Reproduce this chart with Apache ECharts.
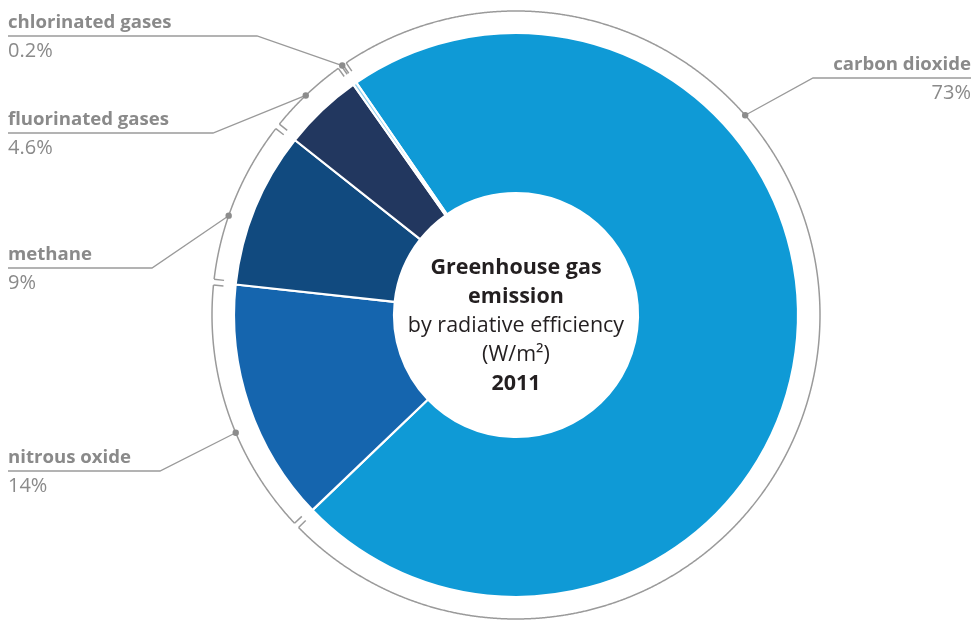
<!DOCTYPE html>
<html>
<head>
<meta charset="utf-8">
<script src="https://cdn.jsdelivr.net/npm/echarts@6/dist/echarts.min.js"></script>
<style>
  html, body { margin: 0; padding: 0; background: #ffffff; }
  #chart { width: 977px; height: 620px; }
</style>
</head>
<body>
<div id="chart"></div>
<script>
// Greenhouse gas emission by radiative efficiency, 2011 (share of total, %)
const gases = ['carbon dioxide', 'nitrous oxide', 'methane', 'fluorinated gases', 'chlorinated gases'];
const shares = [73, 14, 9, 4.6, 0.2];
const shareLabels = ['73%', '14%', '9%', '4.6%', '0.2%'];
const centerLines = ['Greenhouse gas', 'emission', 'by radiative efficiency', '(W/m²)', '2011'];

// styling
const sliceColors = ['#0f9ad6', '#1565ae', '#114a7f', '#22375f', '#8ccfee'];
const GREY_LINE = '#9a9a9a';
const GREY_TEXT = '#8a8a8a';
const FONT = '"Open Sans", "Noto Sans", sans-serif';

// layout
const CX = 516, CY = 315;
const DONUT_R0 = 122, DONUT_R = 282;
const RING_R = 304;          // thin bracket ring around the donut
const TICK = 10;             // length of the inward bracket ticks, px
const GAP_DEG = 0.55;        // half the gap between neighbouring brackets
const START_ANGLE = 124.5;   // first slice starts up-left of 12 o'clock

// leader placement for each label: point on the ring (fraction along its slice),
// underline height, elbow x and the x where the underline ends
const leaders = [
  { along: 0.32, lineY: 78,  kinkX: 813, endX: 971, side: 'right' },
  { along: 0.42, lineY: 471, kinkX: 160, endX: 8,   side: 'left' },
  { along: 0.40, lineY: 268, kinkX: 152, endX: 8,   side: 'left' },
  { along: 0.48, lineY: 133, kinkX: 213, endX: 8,   side: 'left' },
  { along: 0.50, lineY: 36,  kinkX: 257, endX: 8,   side: 'left' }
];

const total = shares.reduce((a, b) => a + b, 0);
const spans = [];
let acc = 0;
shares.forEach(v => { spans.push([acc, acc + v]); acc += v; });

const gapVal = total / 360 * GAP_DEG;

function renderBracket(params, api) {
  const i = params.dataIndex;
  const a0 = api.value(0), a1 = api.value(1);
  const span = a1 - a0;
  const gap = Math.min(gapVal, span * 0.25);
  const s = a0 + gap, e = a1 - gap;
  const inner = 1 - TICK / RING_R;

  const arc = [];
  const n = Math.max(2, Math.ceil((e - s) / 0.05));
  for (let k = 0; k <= n; k++) arc.push(api.coord([1, s + (e - s) * k / n]));

  const lineStyle = { stroke: GREY_LINE, lineWidth: 1.5, fill: null };
  const L = leaders[i];
  const dot = api.coord([1, a0 + span * L.along]);
  const align = L.side === 'right' ? 'right' : 'left';
  const ps = api.coord([1, s]), pis = api.coord([inner, s]);
  const pe = api.coord([1, e]), pie = api.coord([inner, e]);

  return {
    type: 'group',
    children: [
      { type: 'polyline', shape: { points: arc }, style: lineStyle },
      { type: 'line', shape: { x1: ps[0], y1: ps[1], x2: pis[0], y2: pis[1] }, style: lineStyle },
      { type: 'line', shape: { x1: pe[0], y1: pe[1], x2: pie[0], y2: pie[1] }, style: lineStyle },
      { type: 'polyline', shape: { points: [dot, [L.kinkX, L.lineY], [L.endX, L.lineY]] },
        style: { stroke: GREY_LINE, lineWidth: 1.3, fill: null } },
      { type: 'circle', shape: { cx: dot[0], cy: dot[1], r: 3.2 }, style: { fill: '#8c8c8c' } },
      { type: 'text', style: { text: gases[i], x: L.endX, y: L.lineY - 13, align: align,
          verticalAlign: 'middle', fill: GREY_TEXT, fontFamily: FONT, fontWeight: 700, fontSize: 18.6 } },
      { type: 'text', style: { text: shareLabels[i], x: L.endX, y: L.lineY + 15, align: align,
          verticalAlign: 'middle', fill: GREY_TEXT, fontFamily: FONT, fontWeight: 400, fontSize: 20 } }
    ]
  };
}

const chart = echarts.init(document.getElementById('chart'), null, { renderer: 'canvas' });

chart.setOption({
  backgroundColor: '#ffffff',
  animation: false,
  polar: { center: [CX, CY], radius: RING_R },
  angleAxis: { type: 'value', min: 0, max: total, startAngle: START_ANGLE, clockwise: true, show: false },
  radiusAxis: { type: 'value', min: 0, max: 1, show: false },
  graphic: [{
    type: 'text',
    x: CX, y: CY + 11,
    style: {
      text: [
        '{b|' + centerLines[0] + '}',
        '{b|' + centerLines[1] + '}',
        '{r|' + centerLines[2] + '}',
        '{r|' + centerLines[3] + '}',
        '{b|' + centerLines[4] + '}'
      ].join('\n'),
      align: 'center',
      verticalAlign: 'middle',
      rich: {
        b: { fontFamily: FONT, fontWeight: 700, fontSize: 21.5, lineHeight: 29, fill: '#231f20', align: 'center' },
        r: { fontFamily: FONT, fontWeight: 400, fontSize: 21.5, lineHeight: 29, fill: '#231f20', align: 'center' }
      }
    },
    z: 10
  }],
  series: [
    {
      type: 'pie',
      center: [CX, CY],
      radius: [DONUT_R0, DONUT_R],
      startAngle: START_ANGLE,
      clockwise: true,
      avoidLabelOverlap: false,
      label: { show: false },
      labelLine: { show: false },
      emphasis: { disabled: true },
      itemStyle: { borderColor: '#ffffff', borderWidth: 2.2 },
      data: gases.map((g, i) => ({ name: g, value: shares[i], itemStyle: { color: sliceColors[i] } }))
    },
    {
      type: 'custom',
      coordinateSystem: 'polar',
      clip: false,
      silent: true,
      renderItem: renderBracket,
      data: spans
    }
  ]
});
</script>
</body>
</html>
